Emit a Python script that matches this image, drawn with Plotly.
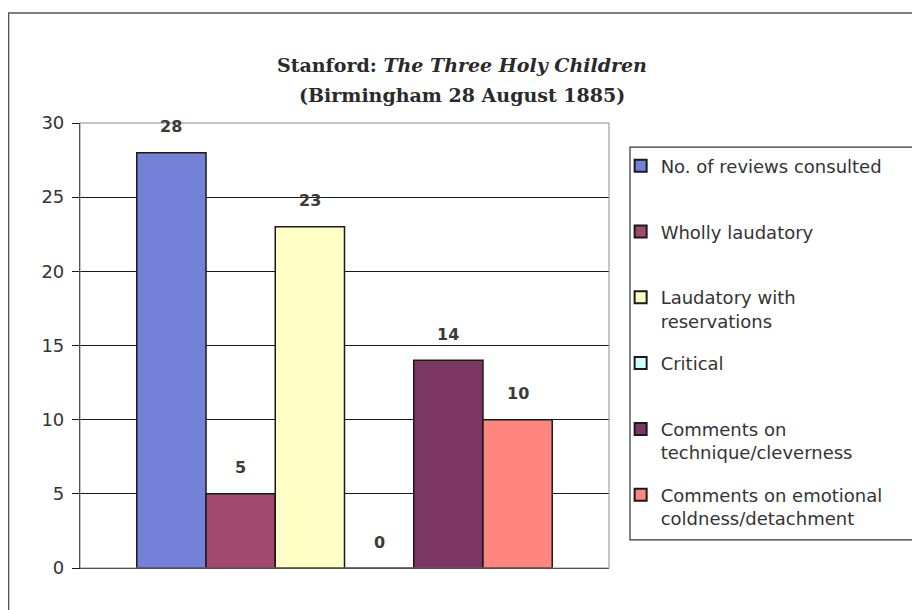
import plotly.graph_objects as go

series_names = [
    "No. of reviews consulted",
    "Wholly laudatory",
    "Laudatory with<br>reservations",
    "Critical",
    "Comments on<br>technique/cleverness",
    "Comments on emotional<br>coldness/detachment",
]
values = [28, 5, 23, 0, 14, 10]
colors = ["#7382d8", "#a3496e", "#ffffc6", "#ccffff", "#7b3664", "#ff857f"]
y_ticks = [0, 5, 10, 15, 20, 25, 30]
title_lines = ["<b>Stanford: <i>The Three Holy Children</i></b>",
               "<b>(Birmingham 28 August 1885)</b>"]

SANS = "DejaVu Sans, Arial"
SERIF = "DejaVu Serif, Times New Roman"

fig = go.Figure()
for i, (name, v, c) in enumerate(zip(series_names, values, colors)):
    label = name if "<br>" in name else name + "<br> "
    fig.add_trace(go.Bar(
        x=[i], y=[v], width=1.0, name=label, legendgroup=str(i),
        marker=dict(color=c, line=dict(color="#1a1a1a", width=1.5)),
        hoverinfo="skip",
    ))
    fig.add_annotation(x=i, y=v, text="<b>%d</b>" % v, showarrow=False,
                       yanchor="middle", yshift=26,
                       font=dict(family=SANS, size=16, color="#3a3a3a"))

# two-line chart title
for txt, yp in zip(title_lines, [1.130, 1.063]):
    fig.add_annotation(xref="paper", yref="paper", x=0.722, y=yp, text=txt,
                       showarrow=False, xanchor="center", yanchor="middle",
                       font=dict(family=SERIF, size=19, color="#2a2a2a"))

# plot area border (gray)
fig.add_shape(type="rect", xref="paper", yref="paper", x0=0, x1=1, y0=0, y1=1,
              line=dict(color="#8a8a8a", width=1), layer="above")
# outer chart border
fig.add_shape(type="rect", xref="paper", yref="paper", x0=-0.135, x1=1.582, y0=-0.2, y1=1.247,
              line=dict(color="#555555", width=1.5), layer="below")
# legend box
fig.add_shape(type="rect", xref="paper", yref="paper", x0=1.0397, x1=1.578, y0=0.063, y1=0.946,
              line=dict(color="#333333", width=1.2), fillcolor="white", layer="below")

fig.update_layout(
    width=920, height=610,
    margin=dict(l=72, r=319, t=115, b=50),
    paper_bgcolor="white", plot_bgcolor="white",
    barmode="overlay",
    showlegend=True,
    legend=dict(
        x=1.022, xanchor="left", y=0.945, yanchor="top",
        bgcolor="rgba(0,0,0,0)", borderwidth=0,
        font=dict(family=SANS, size=18, color="#333333"),
        tracegroupgap=16, valign="top", itemsizing="constant",
    ),
    xaxis=dict(range=[-1.32, 6.32], showticklabels=False, ticks="", showgrid=False,
               zeroline=False, showline=True, linecolor="#1a1a1a", linewidth=1.2, fixedrange=True),
    yaxis=dict(range=[0, 30], tickvals=y_ticks, ticks="outside", ticklen=7, tickcolor="#1a1a1a",
               showgrid=True, gridcolor="#1a1a1a", gridwidth=1.2, zeroline=False,
               showline=True, linecolor="#1a1a1a", linewidth=1.2,
               tickfont=dict(family=SANS, size=18, color="#333333"),
               ticklabelstandoff=4),
)

fig.write_html("out.html")
